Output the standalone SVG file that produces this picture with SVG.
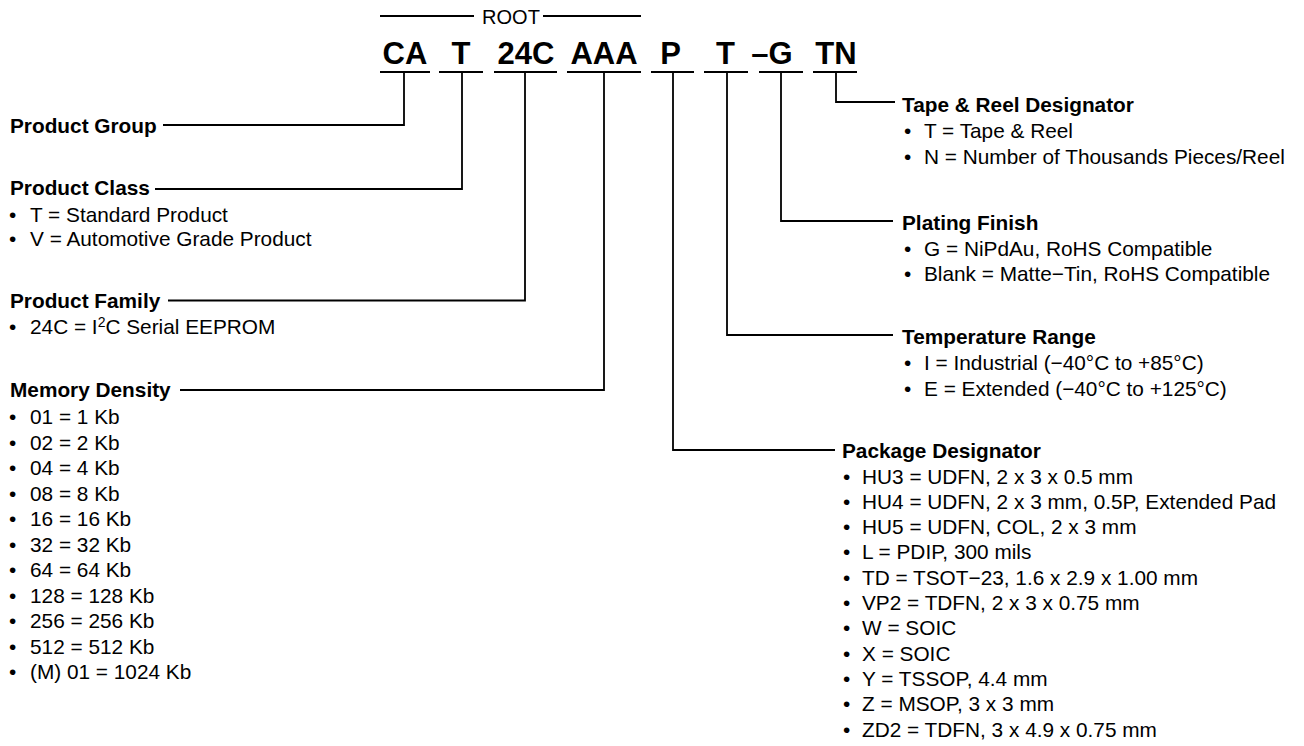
<svg xmlns="http://www.w3.org/2000/svg" width="1304" height="746" viewBox="0 0 1304 746">
<style>
text{font-family:"Liberation Sans",Arial,Helvetica,sans-serif;fill:#000}
.big{font-size:31px;font-weight:bold}
.root{font-size:20px}
.h{font-size:20.8px;font-weight:bold}
.i{font-size:20.8px}
.sup{font-size:14px}
.ln{fill:none;stroke:#000;stroke-width:1.8}
</style>
<rect width="1304" height="746" fill="#fff"/>
<g id="root">
<line class="ln" x1="380" y1="16" x2="474" y2="16"/>
<text class="root" x="511" y="23.5" text-anchor="middle">ROOT</text>
<line class="ln" x1="543" y1="16" x2="641" y2="16"/>
</g>
<g id="code">
<text class="big" x="405" y="64" text-anchor="middle">CA</text>
<text class="big" x="461" y="64" text-anchor="middle">T</text>
<text class="big" x="526" y="64" text-anchor="middle">24C</text>
<text class="big" x="604" y="64" text-anchor="middle">AAA</text>
<text class="big" x="670.5" y="64" text-anchor="middle">P</text>
<text class="big" x="725.5" y="64" text-anchor="middle">T</text>
<text class="big" x="772" y="64" text-anchor="middle">–G</text>
<text class="big" x="836" y="64" text-anchor="middle">TN</text>
<g class="ln">
<line x1="380" y1="72" x2="430" y2="72"/>
<line x1="439" y1="72" x2="483" y2="72"/>
<line x1="494" y1="72" x2="557" y2="72"/>
<line x1="567" y1="72" x2="641" y2="72"/>
<line x1="651" y1="72" x2="694" y2="72"/>
<line x1="704" y1="72" x2="748" y2="72"/>
<line x1="759" y1="72" x2="803" y2="72"/>
<line x1="813" y1="72" x2="857" y2="72"/>
</g>
</g>
<g id="connectors" class="ln">
<path d="M404 72V125H163"/>
<path d="M462 72V189H155"/>
<path d="M525 72V300.5H168"/>
<path d="M604 72V390H180"/>
<path d="M673 72V450H835"/>
<path d="M727 72V335H893"/>
<path d="M781 72V221H893"/>
<path d="M836 72V102H895"/>
</g>
<g id="product-group">
<text class="h" x="10" y="132.5">Product Group</text>
</g>
<g id="product-class">
<text class="h" x="10" y="195">Product Class</text>
<text class="i" y="221.5"><tspan x="9">•</tspan><tspan x="30">T = Standard Product</tspan></text>
<text class="i" y="246"><tspan x="9">•</tspan><tspan x="30">V = Automotive Grade Product</tspan></text>
</g>
<g id="product-family">
<text class="h" x="10" y="308">Product Family</text>
<text class="i" y="334"><tspan x="9">•</tspan><tspan x="30">24C = I</tspan><tspan class="sup" dy="-7">2</tspan><tspan dy="7">C Serial EEPROM</tspan></text>
</g>
<g id="memory-density">
<text class="h" x="10" y="397">Memory Density</text>
<text class="i" y="424"><tspan x="9">•</tspan><tspan x="30">01 = 1 Kb</tspan></text>
<text class="i" y="449.5"><tspan x="9">•</tspan><tspan x="30">02 = 2 Kb</tspan></text>
<text class="i" y="475"><tspan x="9">•</tspan><tspan x="30">04 = 4 Kb</tspan></text>
<text class="i" y="500.5"><tspan x="9">•</tspan><tspan x="30">08 = 8 Kb</tspan></text>
<text class="i" y="526"><tspan x="9">•</tspan><tspan x="30">16 = 16 Kb</tspan></text>
<text class="i" y="551.5"><tspan x="9">•</tspan><tspan x="30">32 = 32 Kb</tspan></text>
<text class="i" y="577"><tspan x="9">•</tspan><tspan x="30">64 = 64 Kb</tspan></text>
<text class="i" y="602.5"><tspan x="9">•</tspan><tspan x="30">128 = 128 Kb</tspan></text>
<text class="i" y="628"><tspan x="9">•</tspan><tspan x="30">256 = 256 Kb</tspan></text>
<text class="i" y="653.5"><tspan x="9">•</tspan><tspan x="30">512 = 512 Kb</tspan></text>
<text class="i" y="679"><tspan x="9">•</tspan><tspan x="30">(M) 01 = 1024 Kb</tspan></text>
</g>
<g id="tape-reel">
<text class="h" x="902" y="111.5">Tape &amp; Reel Designator</text>
<text class="i" y="138"><tspan x="904">•</tspan><tspan x="924">T = Tape &amp; Reel</tspan></text>
<text class="i" y="163.5"><tspan x="904">•</tspan><tspan x="924">N = Number of Thousands Pieces/Reel</tspan></text>
</g>
<g id="plating-finish">
<text class="h" x="902" y="229.5">Plating Finish</text>
<text class="i" y="255.5"><tspan x="904">•</tspan><tspan x="924">G = NiPdAu, RoHS Compatible</tspan></text>
<text class="i" y="281"><tspan x="904">•</tspan><tspan x="924">Blank = Matte−Tin, RoHS Compatible</tspan></text>
</g>
<g id="temperature-range">
<text class="h" x="902" y="343.5">Temperature Range</text>
<text class="i" y="370"><tspan x="904">•</tspan><tspan x="924">I = Industrial (−40°C to +85°C)</tspan></text>
<text class="i" y="395.5"><tspan x="904">•</tspan><tspan x="924">E = Extended (−40°C to +125°C)</tspan></text>
</g>
<g id="package-designator">
<text class="h" x="842" y="457.5">Package Designator</text>
<text class="i" y="483.5"><tspan x="843">•</tspan><tspan x="862">HU3 = UDFN, 2 x 3 x 0.5 mm</tspan></text>
<text class="i" y="508.8"><tspan x="843">•</tspan><tspan x="862">HU4 = UDFN, 2 x 3 mm, 0.5P, Extended Pad</tspan></text>
<text class="i" y="534.1"><tspan x="843">•</tspan><tspan x="862">HU5 = UDFN, COL, 2 x 3 mm</tspan></text>
<text class="i" y="559.4"><tspan x="843">•</tspan><tspan x="862">L = PDIP, 300 mils</tspan></text>
<text class="i" y="584.7"><tspan x="843">•</tspan><tspan x="862">TD = TSOT−23, 1.6 x 2.9 x 1.00 mm</tspan></text>
<text class="i" y="610"><tspan x="843">•</tspan><tspan x="862">VP2 = TDFN, 2 x 3 x 0.75 mm</tspan></text>
<text class="i" y="635.3"><tspan x="843">•</tspan><tspan x="862">W = SOIC</tspan></text>
<text class="i" y="660.6"><tspan x="843">•</tspan><tspan x="862">X = SOIC</tspan></text>
<text class="i" y="685.9"><tspan x="843">•</tspan><tspan x="862">Y = TSSOP, 4.4 mm</tspan></text>
<text class="i" y="711.2"><tspan x="843">•</tspan><tspan x="862">Z = MSOP, 3 x 3 mm</tspan></text>
<text class="i" y="736.5"><tspan x="843">•</tspan><tspan x="862">ZD2 = TDFN, 3 x 4.9 x 0.75 mm</tspan></text>
</g>
</svg>
